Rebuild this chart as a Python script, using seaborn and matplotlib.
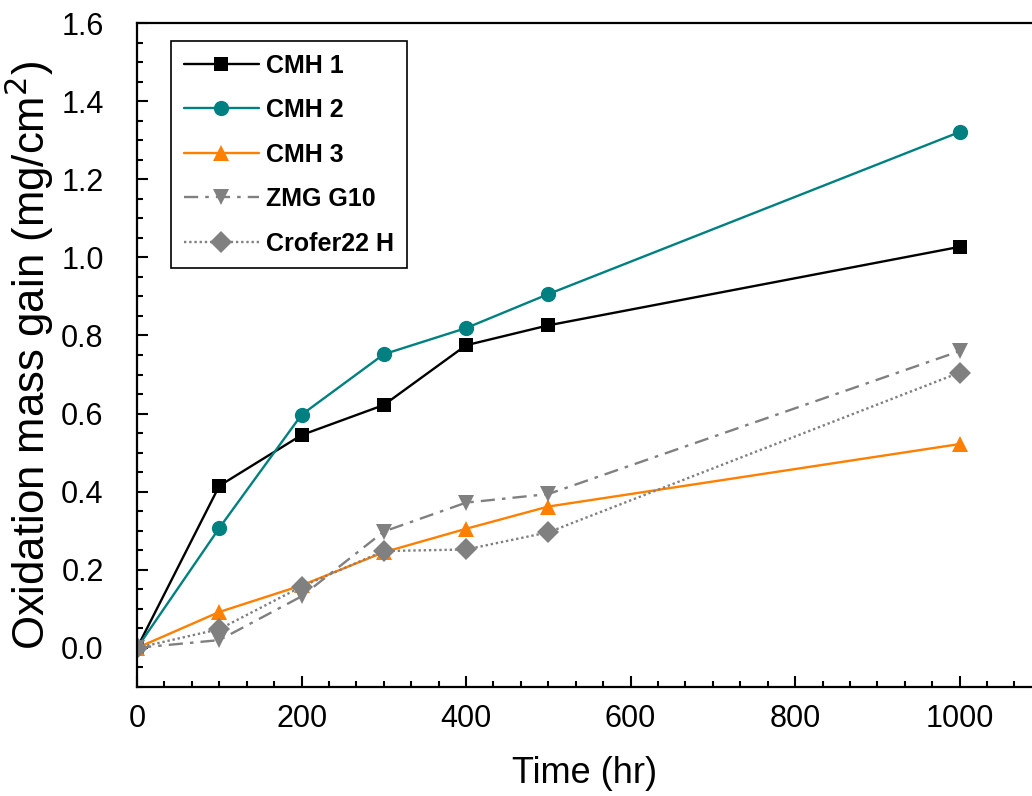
import matplotlib
matplotlib.use("Agg")
import matplotlib.pyplot as plt
import pandas as pd
import seaborn as sns
from matplotlib.ticker import MultipleLocator

time_hr = [0, 100, 200, 300, 400, 500, 1000]
cmh1 = [0.0, 0.415, 0.545, 0.622, 0.775, 0.826, 1.027]
cmh2 = [0.0, 0.307, 0.597, 0.752, 0.819, 0.906, 1.321]
cmh3 = [0.0, 0.092, 0.160, 0.245, 0.305, 0.362, 0.522]
zmg_g10 = [0.0, 0.020, 0.132, 0.298, 0.372, 0.394, 0.760]
crofer22h = [0.0, 0.048, 0.157, 0.248, 0.252, 0.296, 0.705]

series_names = ["CMH 1", "CMH 2", "CMH 3", "ZMG G10", "Crofer22 H"]
series_values = [cmh1, cmh2, cmh3, zmg_g10, crofer22h]
colors = ["#000000", "#008080", "#FF7F00", "#808080", "#808080"]
markers = ["s", "o", "^", "v", "D"]
marker_sizes = [10.5, 11, 12, 12, 11.5]
line_styles = ["-", "-", "-", (0, (6, 3, 1.5, 3)), (0, (1, 1.2))]

sns.set_theme(style="ticks")
plt.rcParams["font.family"] = ["Liberation Sans", "DejaVu Sans"]
plt.rcParams["text.color"] = "black"
plt.rcParams["axes.labelcolor"] = "black"

frame = pd.DataFrame(
    {
        "time": time_hr * len(series_names),
        "gain": [v for values in series_values for v in values],
        "series": [name for name in series_names for _ in time_hr],
    }
)

fig = plt.figure(figsize=(10.32, 7.96), dpi=100)
ax = fig.add_axes([0.1328, 0.137, 0.8672, 0.834])

for name, color, marker, ms, ls in zip(series_names, colors, markers, marker_sizes, line_styles):
    sub = frame[frame["series"] == name]
    sns.lineplot(
        data=sub, x="time", y="gain", ax=ax, color=color, marker=marker,
        markersize=ms, markeredgewidth=0, linewidth=1.7, linestyle=ls, label=name,
    )

ax.set_xlim(0, 1088)
ax.set_ylim(-0.1, 1.6)
ax.xaxis.set_major_locator(MultipleLocator(200))
ax.xaxis.set_minor_locator(MultipleLocator(200 / 6))
ax.yaxis.set_major_locator(MultipleLocator(0.2))
ax.yaxis.set_minor_locator(MultipleLocator(0.05))
ax.tick_params(which="both", direction="in", width=1.5, colors="black", top=False, right=False)
ax.tick_params(which="major", length=8, labelsize=22)
ax.tick_params(axis="y", which="major", pad=24)
ax.tick_params(axis="x", which="major", pad=12)
ax.tick_params(which="minor", length=4)
for side in ["left", "bottom", "top"]:
    ax.spines[side].set_linewidth(1.6)
    ax.spines[side].set_color("black")
ax.spines["right"].set_visible(False)

ax.set_xlabel("Time (hr)", fontsize=26, labelpad=16)
ax.set_ylabel("Oxidation mass gain (mg/cm$^2$)", fontsize=31.5, labelpad=4)

leg = ax.legend(
    loc="upper left", bbox_to_anchor=(0.038, 0.973), borderaxespad=0,
    prop={"weight": "bold", "size": 18},
    handlelength=3.0, handletextpad=0.3, labelspacing=0.82,
    fancybox=False, edgecolor="black", framealpha=1, borderpad=0.5,
)
leg.get_frame().set_linewidth(1.2)

fig.savefig("out.png", dpi=100)
